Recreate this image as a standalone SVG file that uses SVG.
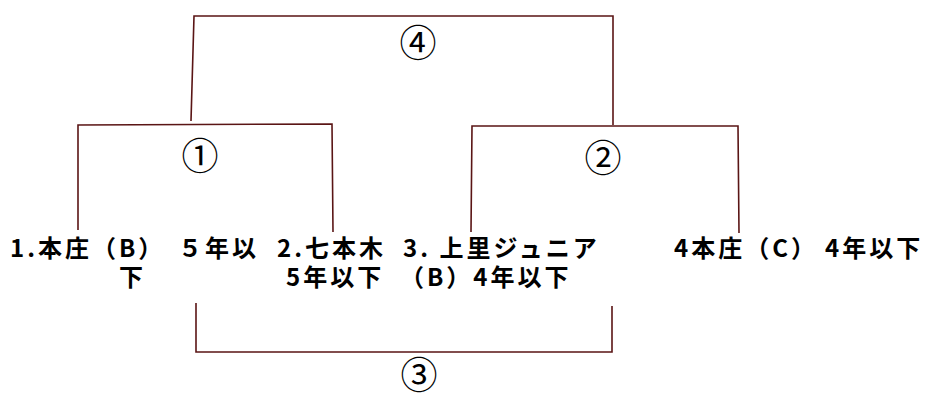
<svg xmlns="http://www.w3.org/2000/svg" width="925" height="399" viewBox="0 0 925 399">
<style>
.ln{fill:none;stroke:#5a1515;stroke-width:1.6;}
.t{font-family:"Noto Sans CJK JP","Noto Sans",sans-serif;font-weight:bold;font-size:24px;letter-spacing:3px;fill:#000;}
.c{font-family:"Noto Sans CJK JP","DejaVu Sans",sans-serif;font-size:37px;fill:#000;text-anchor:middle;}
</style>
<rect width="925" height="399" fill="#fff"/>
<g id="connectors">
<path class="ln" d="M78,230 L78,125 L332,124 L333,232"/>
<path class="ln" d="M191,121 L194,16 L613,16 L613,125"/>
<path class="ln" d="M471,232 L472,126 L738,126 L739,233"/>
<path class="ln" d="M196,303 L196,352 L612,352 L612,306"/>
</g>
<g id="label1"><text class="c" x="200" y="170">①</text></g>
<g id="label2"><text class="c" x="603" y="172">②</text></g>
<g id="label3"><text class="c" x="419" y="389">③</text></g>
<g id="label4"><text class="c" x="418" y="57">④</text></g>
<g id="team1">
<text class="t" x="10" y="257">1.本庄（B）</text>
<text class="t" x="178" y="257">５年以</text>
<text class="t" x="119" y="286">下</text>
</g>
<g id="team2">
<text class="t" x="277" y="257">2.七本木</text>
<text class="t" x="286" y="286">5年以下</text>
</g>
<g id="team3">
<text class="t" x="403" y="257">3. 上里ジュニア</text>
<text class="t" x="400" y="286">（B）4年以下</text>
</g>
<g id="team4">
<text class="t" x="674" y="257">4本庄（C）</text>
<text class="t" x="825" y="257">4年以下</text>
</g>
</svg>
